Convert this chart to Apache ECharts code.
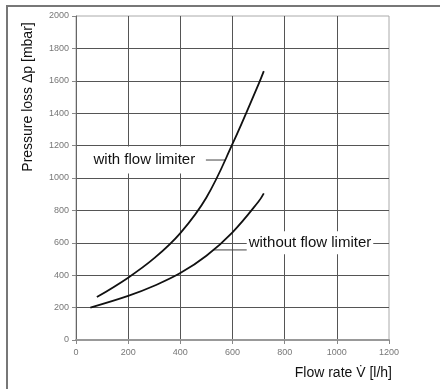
<!DOCTYPE html>
<html>
<head>
<meta charset="utf-8">
<script src="https://cdn.jsdelivr.net/npm/echarts@6/dist/echarts.min.js"></script>
<style>
  html, body { margin: 0; padding: 0; background: #fff; }
  #main { width: 440px; height: 389px; }
</style>
</head>
<body>
<div id="main"></div>
<script>
var chart = echarts.init(document.getElementById('main'));

// curve with flow limiter
var flowWith = [80, 200, 300, 400, 500, 600, 700, 720];
var lossWith = [265, 385, 505, 660, 880, 1210, 1580, 1660];
// curve without flow limiter
var flowWithout = [55, 200, 300, 400, 500, 600, 700, 720];
var lossWithout = [200, 272, 335, 413, 520, 665, 855, 905];

var xTicks = [0, 200, 400, 600, 800, 1000, 1200];
var yTicks = [0, 200, 400, 600, 800, 1000, 1200, 1400, 1600, 1800, 2000];

function pairs(xs, ys) {
  return xs.map(function (x, i) { return [x, ys[i]]; });
}

var sans = "'Liberation Sans', Arial, sans-serif";

var option = {
  animation: false,
  grid: {
    left: 76,
    top: 16,
    right: 51,
    bottom: 49,
    show: true,
    borderColor: '#aaa',
    borderWidth: 1
  },
  xAxis: {
    type: 'value',
    min: xTicks[0],
    max: xTicks[xTicks.length - 1],
    interval: 200,
    axisLine: { show: true, lineStyle: { color: '#999', width: 2 } },
    axisTick: { show: true, length: 4, lineStyle: { color: '#888' } },
    axisLabel: { color: '#777', fontSize: 9, fontFamily: sans, margin: 8,
      formatter: function (v) { return String(v); } },
    splitLine: { show: true, showMaxLine: false, showMinLine: false, lineStyle: { color: '#555', width: 1 } }
  },
  yAxis: {
    type: 'value',
    min: yTicks[0],
    max: yTicks[yTicks.length - 1],
    interval: 200,
    axisLine: { show: true, lineStyle: { color: '#666', width: 1 } },
    axisTick: { show: true, length: 4, lineStyle: { color: '#888' } },
    axisLabel: { color: '#777', fontSize: 9, fontFamily: sans, margin: 7,
      formatter: function (v) { return String(v); } },
    splitLine: { show: true, showMaxLine: false, showMinLine: false, lineStyle: { color: '#555', width: 1 } }
  },
  series: [
    {
      name: 'with flow limiter',
      type: 'line',
      smooth: 0.4,
      symbol: 'none',
      lineStyle: { color: '#111', width: 1.8 },
      data: pairs(flowWith, lossWith),
      z: 5
    },
    {
      name: 'without flow limiter',
      type: 'line',
      smooth: 0.4,
      symbol: 'none',
      lineStyle: { color: '#111', width: 1.8 },
      data: pairs(flowWithout, lossWithout),
      z: 5
    }
  ]
};
chart.setOption(option);

// annotations placed from data coordinates
function px(x, y) { return chart.convertToPixel({ gridIndex: 0 }, [x, y]); }

var pWithText = px(262, 1111);
var pWithLead0 = px(498, 1111);
var pWithLead1 = px(575, 1111);
var pWoText = px(897, 600);
var pWoLead0 = px(525, 556);
var pWoLead1 = px(656, 556);

chart.setOption({
  graphic: [
    {
      type: 'polyline',
      shape: { points: [[7, 389], [7, 6], [440, 6]] },
      style: { stroke: '#777', lineWidth: 2, fill: null },
      silent: true
    },
    {
      type: 'text',
      x: 28, y: 97,
      rotation: Math.PI / 2,
      style: {
        text: 'Pressure loss \u0394p [mbar]',
        font: '14px ' + sans,
        fill: '#111',
        align: 'center',
        verticalAlign: 'middle'
      }
    },
    {
      type: 'text',
      x: 392, y: 373,
      style: {
        text: 'Flow rate V\u0307 [l/h]',
        font: '14px ' + sans,
        fill: '#111',
        align: 'right',
        verticalAlign: 'middle'
      }
    },
    {
      type: 'text',
      x: pWithText[0], y: pWithText[1],
      z: 100,
      style: {
        text: 'with flow limiter',
        font: '15px ' + sans,
        fill: '#111',
        align: 'center',
        verticalAlign: 'middle',
        backgroundColor: '#fff',
        padding: [6, 5, 6, 5]
      }
    },
    {
      type: 'line',
      shape: { x1: pWithLead0[0], y1: pWithLead0[1], x2: pWithLead1[0], y2: pWithLead1[1] },
      style: { stroke: '#444', lineWidth: 1 }
    },
    {
      type: 'text',
      x: pWoText[0], y: pWoText[1],
      z: 100,
      style: {
        text: 'without flow limiter',
        font: '15px ' + sans,
        fill: '#111',
        align: 'center',
        verticalAlign: 'middle',
        backgroundColor: '#fff',
        padding: [4, 2, 4, 2]
      }
    },
    {
      type: 'line',
      shape: { x1: pWoLead0[0], y1: pWoLead0[1], x2: pWoLead1[0], y2: pWoLead1[1] },
      style: { stroke: '#444', lineWidth: 1 }
    }
  ]
});
</script>
</body>
</html>
